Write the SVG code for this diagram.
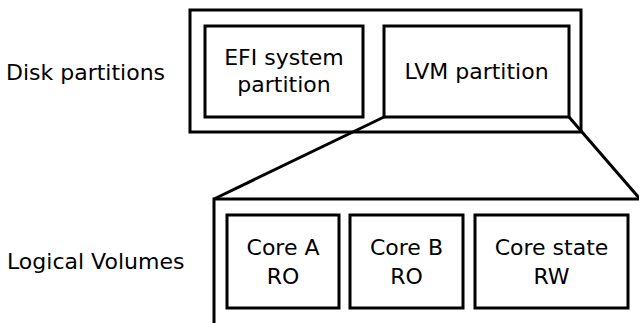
<svg xmlns="http://www.w3.org/2000/svg" width="639" height="323" viewBox="0 0 639 323">
<style>
.box{fill:none;stroke:#000;stroke-width:3}
.t{font-family:"DejaVu Sans",sans-serif;font-size:22px;fill:#000}
.c{text-anchor:middle}
.ln{stroke:#000;stroke-width:3;fill:none}
</style>
<rect width="639" height="323" fill="#fff"/>
<text class="t" x="6" y="80">Disk partitions</text>
<text class="t" x="7" y="269">Logical Volumes</text>
<g id="disk">
<rect class="box" x="190" y="10" width="391" height="122"/>
</g>
<g id="efi">
<rect class="box" x="205" y="26" width="158" height="91"/>
<text class="t c" x="284" y="65">EFI system</text>
<text class="t c" x="284" y="92">partition</text>
</g>
<g id="lvm">
<rect class="box" x="384" y="26" width="185" height="91"/>
<text class="t c" x="476.5" y="79">LVM partition</text>
</g>
<g id="connectors">
<line class="ln" x1="384" y1="117" x2="214" y2="199"/>
<line class="ln" x1="569" y1="117" x2="640" y2="199"/>
</g>
<g id="lv">
<rect class="box" x="214" y="199" width="440" height="140"/>
</g>
<g id="coreA">
<rect class="box" x="227" y="215" width="112" height="93"/>
<text class="t c" x="283" y="255">Core A</text>
<text class="t c" x="283" y="284">RO</text>
</g>
<g id="coreB">
<rect class="box" x="350" y="215" width="113" height="93"/>
<text class="t c" x="406.5" y="255">Core B</text>
<text class="t c" x="406.5" y="284">RO</text>
</g>
<g id="coreState">
<rect class="box" x="475" y="215" width="153" height="93"/>
<text class="t c" x="551.5" y="255">Core state</text>
<text class="t c" x="551.5" y="284">RW</text>
</g>
</svg>
